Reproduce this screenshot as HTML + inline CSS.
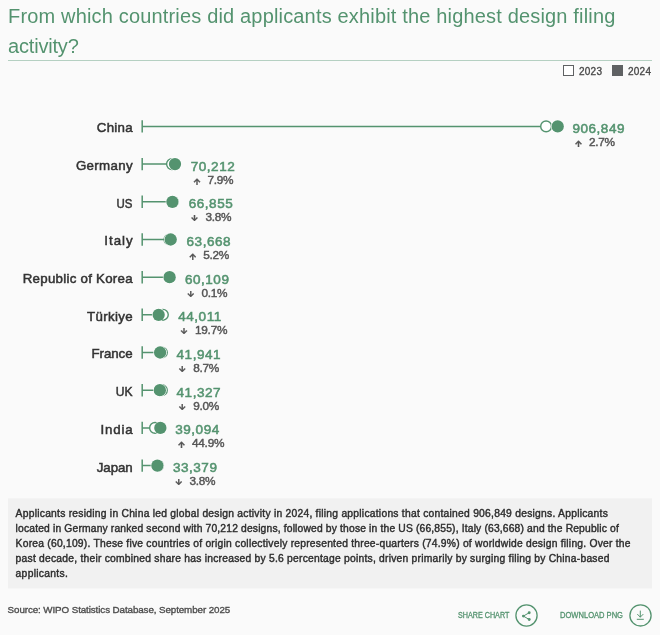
<!DOCTYPE html>
<html><head><meta charset="utf-8">
<style>
html,body{margin:0;padding:0;}
body{width:660px;height:635px;background:#fafafa;font-family:"Liberation Sans",sans-serif;position:relative;overflow:hidden;color:#3c3c3c;}
.title{position:absolute;left:8px;top:0.9px;width:650px;font-size:20px;line-height:30px;color:#54936f;white-space:nowrap;}
.rule{position:absolute;left:8px;top:60px;width:644px;height:1px;background:#b5d0c2;}
.legend{position:absolute;left:563px;top:65px;font-size:10px;line-height:11px;color:#4a4a4a;height:11px;-webkit-text-stroke:0.35px #4a4a4a;letter-spacing:0.25px;white-space:nowrap;}
.legend span{position:absolute;top:0.7px;}
.legend .sq{top:0;}
.legend .sq{width:11px;height:11px;border:1.2px solid #5f6163;box-sizing:border-box;background:#fff;}
.legend .sq.f{background:#5f6163;}
.lab{position:absolute;right:527.4px;font-size:13.3px;line-height:16px;color:#333;white-space:nowrap;-webkit-text-stroke:0.5px #333;transform-origin:100% 50%;}
.val{position:absolute;font-size:13.5px;line-height:16px;color:#54936f;letter-spacing:0.52px;white-space:nowrap;-webkit-text-stroke:0.55px #54936f;}
.chg{position:absolute;font-size:11.8px;line-height:13px;color:#555;letter-spacing:0px;white-space:nowrap;padding-left:16.4px;-webkit-text-stroke:0.45px #555;}
.chg .ar{position:absolute;left:0.2px;top:2.8px;width:10px;height:7px;overflow:hidden;}
.chg .ar i{position:absolute;left:-1.5px;font:normal 15.5px/15.5px "DejaVu Sans",sans-serif;letter-spacing:0;-webkit-text-stroke:0.15px #555;}
.chg .ar.u{top:2.3px;height:8.4px;left:0.9px;}
.chg .ar.d{top:4.3px;height:9px;}
.chg .ar i.u{top:1.3px;}
.chg .ar i.d{top:-6.2px;left:-1.2px;}
.box{position:absolute;left:8px;top:498px;width:644px;height:91px;}
.box p{margin:0;position:absolute;left:7.6px;top:8.1px;font-size:10.3px;line-height:15px;color:#2d2d2d;-webkit-text-stroke:0.4px #2d2d2d;white-space:nowrap;}
.src{position:absolute;left:7.6px;top:603px;font-size:9.8px;line-height:13px;color:#4d4d4d;letter-spacing:-0.095px;-webkit-text-stroke:0.35px #4d4d4d;white-space:nowrap;}
.btn{position:absolute;transform-origin:0 50%;font-size:8.2px;line-height:11px;color:#54936f;top:610.2px;white-space:nowrap;-webkit-text-stroke:0.3px #54936f;}
svg{position:absolute;left:0;top:0;}
</style></head><body>
<div class="title"><span id="t1" style="letter-spacing:0.168px">From which countries did applicants exhibit the highest design filing</span><br><span id="t2" style="letter-spacing:-0.18px">activity?</span></div>
<div class="rule"></div>
<div class="legend"><span class="sq" style="left:0"></span><span style="left:16px">2023</span><span class="sq f" style="left:49px"></span><span style="left:65px">2024</span></div>
<svg width="660" height="635" viewBox="0 0 660 635">
<rect x="8" y="498.4" width="644" height="90.1" fill="#f1f1f1"/>
<path d="M142.2 120.2V132.6M142.2 126.4H557.7" stroke="#54936f" stroke-width="1.5" fill="none"/>
<circle cx="546.1" cy="126.4" r="5.4" fill="#fff" stroke="#54936f" stroke-width="1.4"/>
<circle cx="557.7" cy="126.4" r="6.15" fill="#54936f" stroke="#fff" stroke-width="1.2" paint-order="stroke"/>
<path d="M142.2 157.9V170.29999999999998M142.2 164.1H175.0" stroke="#54936f" stroke-width="1.5" fill="none"/>
<circle cx="172.0" cy="164.1" r="5.4" fill="#fff" stroke="#54936f" stroke-width="1.4"/>
<circle cx="175.0" cy="164.1" r="6.15" fill="#54936f" stroke="#fff" stroke-width="1.2" paint-order="stroke"/>
<path d="M142.2 195.60000000000002V208.0M142.2 201.8H172.9" stroke="#54936f" stroke-width="1.5" fill="none"/>
<circle cx="172.9" cy="201.8" r="5.4" fill="#fff" stroke="#54936f" stroke-width="1.4"/>
<circle cx="172.4" cy="201.8" r="6.15" fill="#54936f" stroke="#fff" stroke-width="1.2" paint-order="stroke"/>
<path d="M142.2 233.3V245.7M142.2 239.5H170.7" stroke="#54936f" stroke-width="1.5" fill="none"/>
<circle cx="169.5" cy="239.5" r="5.4" fill="#fff" stroke="#54936f" stroke-width="1.4"/>
<circle cx="170.7" cy="239.5" r="6.15" fill="#54936f" stroke="#fff" stroke-width="1.2" paint-order="stroke"/>
<path d="M142.2 271.0V283.4M142.2 277.2H169.6" stroke="#54936f" stroke-width="1.5" fill="none"/>
<circle cx="169.6" cy="277.2" r="5.4" fill="#fff" stroke="#54936f" stroke-width="1.4"/>
<circle cx="169.6" cy="277.2" r="6.15" fill="#54936f" stroke="#fff" stroke-width="1.2" paint-order="stroke"/>
<path d="M142.2 308.6V321.0M142.2 314.8H162.85" stroke="#54936f" stroke-width="1.5" fill="none"/>
<circle cx="162.85" cy="314.8" r="5.4" fill="#fff" stroke="#54936f" stroke-width="1.4"/>
<circle cx="158.65" cy="314.8" r="6.15" fill="#54936f" stroke="#fff" stroke-width="1.2" paint-order="stroke"/>
<path d="M142.2 346.3V358.7M142.2 352.5H161.85" stroke="#54936f" stroke-width="1.5" fill="none"/>
<circle cx="161.85" cy="352.5" r="5.4" fill="#fff" stroke="#54936f" stroke-width="1.4"/>
<circle cx="160.1" cy="352.5" r="6.15" fill="#54936f" stroke="#fff" stroke-width="1.2" paint-order="stroke"/>
<path d="M142.2 384.0V396.4M142.2 390.2H161.85" stroke="#54936f" stroke-width="1.5" fill="none"/>
<circle cx="161.85" cy="390.2" r="5.4" fill="#fff" stroke="#54936f" stroke-width="1.4"/>
<circle cx="159.85" cy="390.2" r="6.15" fill="#54936f" stroke="#fff" stroke-width="1.2" paint-order="stroke"/>
<path d="M142.2 421.7V434.09999999999997M142.2 427.9H160.35" stroke="#54936f" stroke-width="1.5" fill="none"/>
<circle cx="155.05" cy="427.9" r="5.4" fill="#fff" stroke="#54936f" stroke-width="1.4"/>
<circle cx="160.35" cy="427.9" r="6.15" fill="#54936f" stroke="#fff" stroke-width="1.2" paint-order="stroke"/>
<path d="M142.2 459.40000000000003V471.8M142.2 465.6H158.0" stroke="#54936f" stroke-width="1.5" fill="none"/>
<circle cx="158.0" cy="465.6" r="5.4" fill="#fff" stroke="#54936f" stroke-width="1.4"/>
<circle cx="157.4" cy="465.6" r="6.15" fill="#54936f" stroke="#fff" stroke-width="1.2" paint-order="stroke"/>
<g fill="none" stroke="#54936f" stroke-width="1.3">
<circle cx="526.5" cy="615.5" r="10.6"/>
<circle cx="640.5" cy="615.4" r="10.6"/>
</g>
<g fill="#54936f" stroke="none">
<circle cx="523.4" cy="616.1" r="1.45"/><circle cx="529.2" cy="612.7" r="1.45"/><circle cx="529.2" cy="619.5" r="1.45"/>
</g>
<g fill="none" stroke="#54936f" stroke-width="1" stroke-linecap="round" stroke-linejoin="round">
<path d="M529.2 612.7 L523.4 616.1 L529.2 619.5"/>
<path d="M640.3 611 V617 M637.6 614.4 L640.3 617.1 L643 614.4 M637.2 619.3 H643.4"/>
</g>
</svg>
<div class="lab" id="lab0" style="top:120px;letter-spacing:0.262px;margin-right:-0.262px">China</div>
<div class="val" style="left:572.5px;top:121px">906,849</div>
<div class="chg" style="letter-spacing:-0.3px;left:572.7px;top:136px"><span class="ar u"><i class="u">↑</i></span>2.7%</div>
<div class="lab" id="lab1" style="top:158px;letter-spacing:0.335px;margin-right:-0.335px">Germany</div>
<div class="val" style="left:190.8px;top:159px">70,212</div>
<div class="chg" style="letter-spacing:-0.3px;left:191.0px;top:174px"><span class="ar u"><i class="u">↑</i></span>7.9%</div>
<div class="lab" id="lab2" style="top:196px;letter-spacing:0px;margin-right:0px;transform:scaleX(0.86)">US</div>
<div class="val" style="left:188.8px;top:196px">66,855</div>
<div class="chg" style="letter-spacing:-0.3px;left:189.0px;top:211px"><span class="ar d"><i class="d">↓</i></span>3.8%</div>
<div class="lab" id="lab3" style="top:233px;letter-spacing:0.977px;margin-right:-0.977px">Italy</div>
<div class="val" style="left:186.6px;top:234px">63,668</div>
<div class="chg" style="letter-spacing:-0.3px;left:186.8px;top:249px"><span class="ar u"><i class="u">↑</i></span>5.2%</div>
<div class="lab" id="lab4" style="top:271px;letter-spacing:0.262px;margin-right:-0.262px">Republic of Korea</div>
<div class="val" style="left:185.0px;top:272px">60,109</div>
<div class="chg" style="letter-spacing:-0.3px;left:185.2px;top:287px"><span class="ar d"><i class="d">↓</i></span>0.1%</div>
<div class="lab" id="lab5" style="top:309px;letter-spacing:0.334px;margin-right:-0.334px">Türkiye</div>
<div class="val" style="left:178.3px;top:309px">44,011</div>
<div class="chg" style="letter-spacing:-0.2px;left:178.5px;top:324px"><span class="ar d"><i class="d">↓</i></span>19.7%</div>
<div class="lab" id="lab6" style="top:346px;letter-spacing:-0.058px;margin-right:0.058px">France</div>
<div class="val" style="left:176.6px;top:347px">41,941</div>
<div class="chg" style="letter-spacing:-0.3px;left:176.8px;top:362px"><span class="ar d"><i class="d">↓</i></span>8.7%</div>
<div class="lab" id="lab7" style="top:384px;letter-spacing:0px;margin-right:0px;transform:scaleX(0.91)">UK</div>
<div class="val" style="left:176.6px;top:385px">41,327</div>
<div class="chg" style="letter-spacing:-0.3px;left:176.8px;top:400px"><span class="ar d"><i class="d">↓</i></span>9.0%</div>
<div class="lab" id="lab8" style="top:422px;letter-spacing:0.839px;margin-right:-0.839px">India</div>
<div class="val" style="left:175.3px;top:422px">39,094</div>
<div class="chg" style="letter-spacing:-0.2px;left:175.5px;top:437px"><span class="ar u"><i class="u">↑</i></span>44.9%</div>
<div class="lab" id="lab9" style="top:460px;letter-spacing:-0.109px;margin-right:0.109px">Japan</div>
<div class="val" style="left:173.0px;top:460px">33,379</div>
<div class="chg" style="letter-spacing:-0.3px;left:173.2px;top:475px"><span class="ar d"><i class="d">↓</i></span>3.8%</div>
<div class="box"><p><span id="l1" style="letter-spacing:0.248px">Applicants residing in China led global design activity in 2024, filing applications that contained 906,849 designs. Applicants</span><br><span id="l2" style="letter-spacing:0.164px">located in Germany ranked second with 70,212 designs, followed by those in the US (66,855), Italy (63,668) and the Republic of</span><br><span id="l3" style="letter-spacing:0.228px">Korea (60,109). These five countries of origin collectively represented three-quarters (74.9%) of worldwide design filing. Over the</span><br><span id="l4" style="letter-spacing:0.232px">past decade, their combined share has increased by 5.6 percentage points, driven primarily by surging filing by China-based</span><br><span id="l5" style="letter-spacing:0.3px">applicants.</span></p></div>
<div class="src" id="src">Source: WIPO Statistics Database, September 2025</div>
<div class="btn" id="b1" style="left:458px;transform:scaleX(0.877)">SHARE CHART</div>
<div class="btn" id="b2" style="left:560px;transform:scaleX(0.923)">DOWNLOAD PNG</div>
</body></html>
